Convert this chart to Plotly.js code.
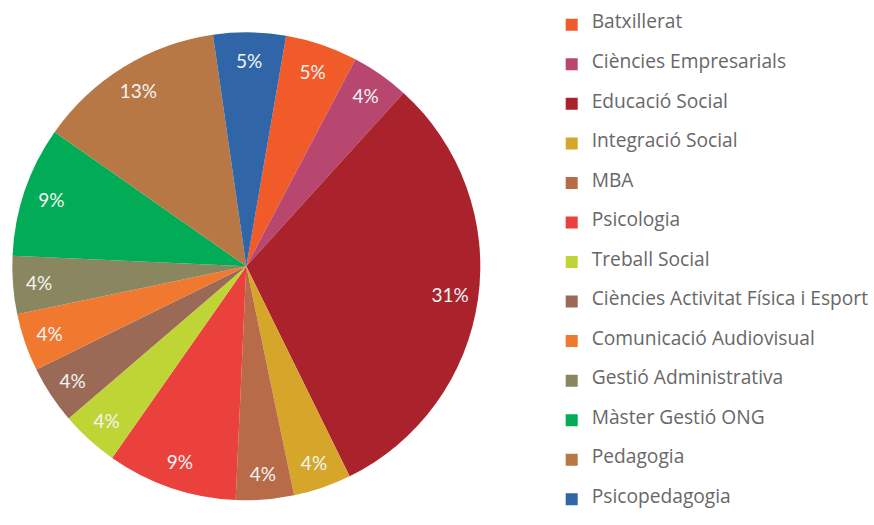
<!DOCTYPE html>
<html>
<head>
<meta charset="utf-8">
<script src="https://cdn.plot.ly/plotly-3.0.1.min.js"></script>
<style>html,body{margin:0;padding:0;background:#fff;}#chart{width:874px;height:525px;}</style>
</head>
<body>
<div id="chart"></div>
<script>
// Data (percent of respondents)
const categories = [
  "Batxillerat",
  "Ciències Empresarials",
  "Educació Social",
  "Integració Social",
  "MBA",
  "Psicologia",
  "Treball Social",
  "Ciències Activitat Física i Esport",
  "Comunicació Audiovisual",
  "Gestió Administrativa",
  "Màster Gestió ONG",
  "Pedagogia",
  "Psicopedagogia"
];
const values = [5, 4, 31, 4, 4, 9, 4, 4, 4, 4, 9, 13, 5];
const colors = [
  "#F15A29", "#B8476F", "#AA222B", "#D5A62A", "#B76B48", "#EB413C", "#BFD536",
  "#9A6A56", "#F0792F", "#8A8660", "#02AC56", "#B87846", "#3065A8"
];

// legend labels: padded with blank lines to reproduce the tall row spacing
const legendLabels = categories.map(c => '\u00a0<br><span style="font-family:\'Open Sans\';font-size:19.2px">' + c + '</span><br>\u00a0');

const W = 874, H = 525;
const cx = 246.3, cy = 266.3, R = 234;
const domain = {
  x: [(cx - R) / W, (cx + R) / W],
  y: [(H - cy - R) / H, (H - cy + R) / H]
};

const base = {
  type: 'pie',
  labels: legendLabels,
  values: values,
  sort: false,
  direction: 'clockwise',
  rotation: 9.8,
  domain: domain,
  hoverinfo: 'skip'
};

const fillTrace = Object.assign({}, base, {
  marker: {colors: colors, line: {width: 0}},
  textinfo: 'none',
  showlegend: true
});

const textTrace = Object.assign({}, base, {
  hole: 0.76,
  marker: {colors: colors.map(() => 'rgba(0,0,0,0)'), line: {width: 0}},
  textinfo: 'percent',
  textposition: 'inside',
  insidetextorientation: 'horizontal',
  textfont: {family: 'Lato', size: 19, color: '#F4F4F4'},
  showlegend: false
});

const layout = {
  width: W,
  height: H,
  margin: {l: 0, r: 0, t: 0, b: 0, autoexpand: false},
  paper_bgcolor: '#ffffff',
  plot_bgcolor: '#ffffff',
  showlegend: true,
  legend: {
    x: 551.7 / W,
    xanchor: 'left',
    y: 1,
    yanchor: 'top',
    bgcolor: 'rgba(0,0,0,0)',
    borderwidth: 0,
    font: {family: 'Open Sans', size: 9.37, color: '#686868'},
    traceorder: 'normal'
  }
};

Plotly.newPlot('chart', [fillTrace, textTrace], layout, {displayModeBar: false, staticPlot: true});
</script>
</body>
</html>
